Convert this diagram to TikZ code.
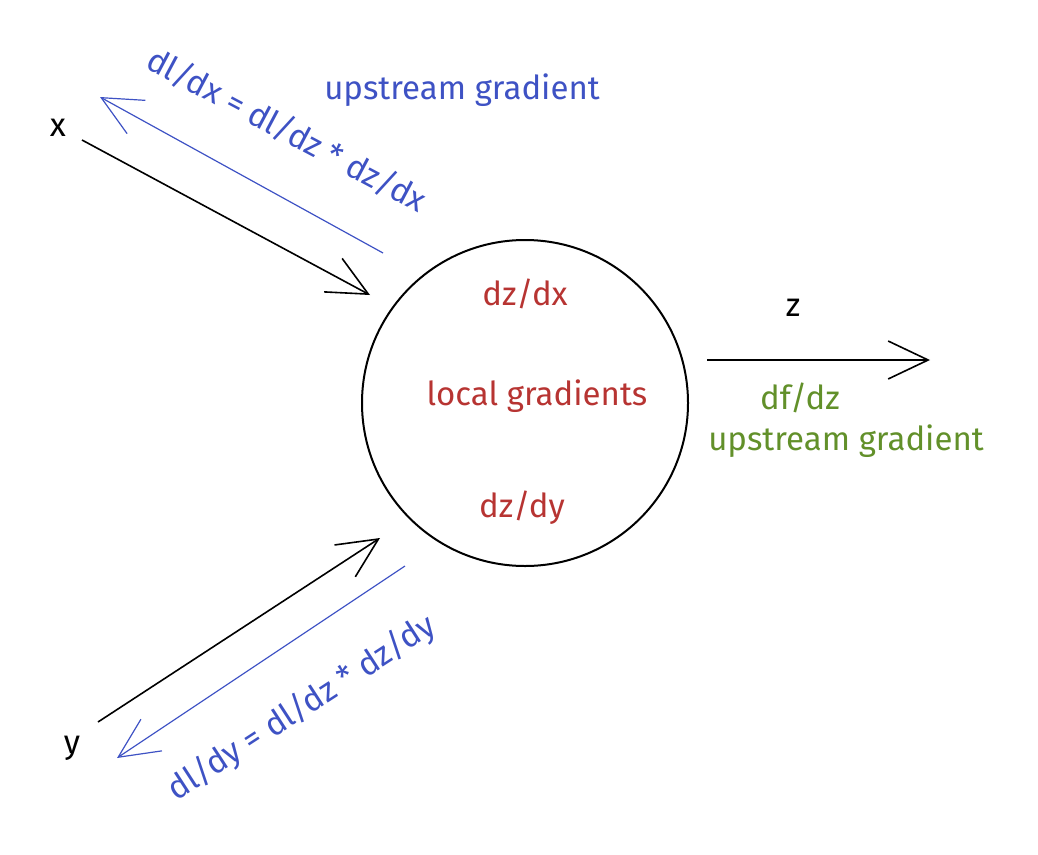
\documentclass[tikz,border=0pt]{standalone}
\usepackage{fontspec}
\setmainfont{Fira Sans}
\usetikzlibrary{arrows.meta}
\definecolor{gradblue}{RGB}{62,82,196}
\definecolor{localred}{RGB}{183,52,50}
\definecolor{upgreen}{RGB}{98,144,42}

\begin{document}
\begin{tikzpicture}[x=1pt, y=1pt]
   \useasboundingbox (0,0) rectangle (1038,-854);
   \tikzset{Label/.style={font=\fontsize{33}{36}\selectfont, inner sep=1pt}}
   \tikzset{EdgeStyle/.style={line width=1.6pt, -{Straight Barb[length=40pt, width=38pt]}}}

   \node[circle, draw, line width=2pt, minimum size=326pt] (N) at (525,-403) {};
   \node[Label, text=localred] (dzdx)  at (525,-294) {dz/dx};
   \node[Label, text=localred] (local) at (537,-396) {local gradients};
   \node[Label, text=localred] (dzdy)  at (522,-508) {dz/dy};

   \node[Label] (X) at (58,-128) {x};
   \node[Label] (Y) at (72,-748) {y};
   \node[Label] (Z) at (793,-308) {z};

   \coordinate (x0) at (82,-140);   \coordinate (x1) at (370,-295);
   \coordinate (gx0) at (383,-253); \coordinate (gx1) at (100,-97);
   \coordinate (y0) at (98,-722);   \coordinate (y1) at (380,-538);
   \coordinate (gy0) at (405,-566); \coordinate (gy1) at (117,-758);
   \coordinate (z0) at (707,-360);  \coordinate (z1) at (930,-360);

   \draw[EdgeStyle] (x0) -- (x1);
   \draw[EdgeStyle] (y0) -- (y1);
   \draw[EdgeStyle] (z0) -- (z1);
   \tikzset{EdgeStyle/.append style={gradblue, line width=1.2pt}}
   \draw[EdgeStyle] (gx0) -- (gx1);
   \draw[EdgeStyle] (gy0) -- (gy1);

   \node[Label, text=gradblue, rotate=-28] (dldx) at (287,-130) {dl/dx = dl/dz * dz/dx};
   \node[Label, text=gradblue] (upx) at (462,-90) {upstream gradient};
   \node[Label, text=gradblue, rotate=33] (dldy) at (302,-708) {dl/dy = dl/dz * dz/dy};

   \node[Label, text=upgreen] (dfdz) at (800,-398) {df/dz};
   \node[Label, text=upgreen] (upz)  at (846,-441) {upstream gradient};
\end{tikzpicture}
\end{document}
